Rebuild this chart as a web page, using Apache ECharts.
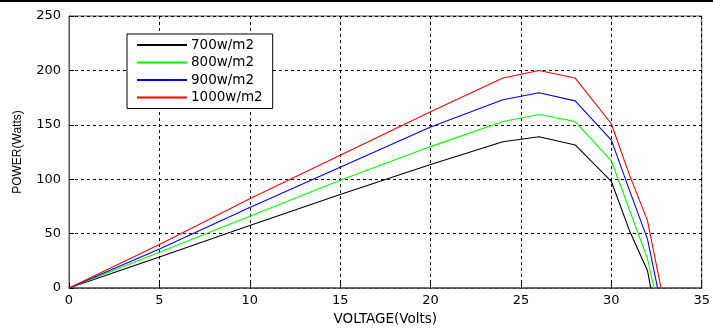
<!DOCTYPE html>
<html>
<head>
<meta charset="utf-8">
<script src="https://cdn.jsdelivr.net/npm/echarts@6/dist/echarts.min.js"></script>
<style>
html,body{margin:0;padding:0;background:#fff;}
#main{width:713px;height:331px;}
</style>
</head>
<body>
<div id="main"></div>
<script>
// Data (voltage in volts, power in watts)
const seriesNames = ['700w/m2', '800w/m2', '900w/m2', '1000w/m2'];
const seriesColors = ['#000000', '#00ff00', '#0000ff', '#ff0000'];
const v700  = [0, 5, 10, 15, 20, 24, 26, 28, 30, 31, 32, 32.18];
const p700  = [0, 28.5, 57.5, 86, 113.5, 134.5, 139, 131.5, 98, 53, 16, 0];
const v800  = [0, 5, 10, 15, 20, 24, 26, 28, 30, 31, 32, 32.36];
const p800  = [0, 33, 66, 99, 130, 153, 159.5, 153, 117, 72, 27, 0];
const v900  = [0, 5, 10, 15, 20, 24, 26, 28, 30, 31, 32, 32.56];
const p900  = [0, 36, 74, 111, 148, 173, 179.5, 172, 136, 90, 45, 0];
const v1000 = [0, 5, 10, 15, 20, 24, 26, 28, 30, 31, 32, 32.75];
const p1000 = [0, 40, 82, 122, 162, 193, 200, 193, 151, 104, 62, 0];
const xTicks = [0, 5, 10, 15, 20, 25, 30, 35];
const yTicks = [0, 50, 100, 150, 200, 250];
const xTitle = 'VOLTAGE(Volts)';
const yTitle = 'POWER(Watts)';

const volts = [v700, v800, v900, v1000];
const powers = [p700, p800, p900, p1000];

const chart = echarts.init(document.getElementById('main'), null, {renderer: 'canvas'});
const tickFont = {color: '#000', fontFamily: 'DejaVu Sans', fontSize: 13};
const gridLine = {show: true, lineStyle: {color: '#000', type: [3, 3], width: 1}};

const option = {
  backgroundColor: '#fff',
  animation: false,
  grid: {left: 69, right: 8, top: 16, bottom: 35, show: true, borderColor: '#555', borderWidth: 1},
  legend: {
    orient: 'vertical',
    left: 127, top: 34,
    data: seriesNames,
    itemWidth: 50, itemHeight: 14, itemGap: 3.5,
    padding: [4, 10, 4, 9],
    backgroundColor: '#fff',
    borderColor: '#000', borderWidth: 1,
    itemStyle: {opacity: 0},
    textStyle: {color: '#000', fontFamily: 'DejaVu Sans', fontSize: 13.5, padding: [0, 0, 0, -1]}
  },
  xAxis: {
    type: 'value', min: xTicks[0], max: xTicks[xTicks.length - 1], interval: 5,
    name: xTitle, nameLocation: 'middle', nameGap: 29,
    nameTextStyle: {color: '#000', fontFamily: 'DejaVu Sans', fontSize: 13.5, verticalAlign: 'middle'},
    axisLine: {show: true, onZero: false, lineStyle: {color: '#555', width: 1.5}},
    axisTick: {show: true, inside: true, length: 5, lineStyle: {color: '#000'}},
    axisLabel: Object.assign({margin: 6}, tickFont),
    splitLine: gridLine
  },
  yAxis: {
    type: 'value', min: yTicks[0], max: yTicks[yTicks.length - 1], interval: 50,
    name: yTitle, nameLocation: 'middle', nameGap: 51, nameRotate: 90,
    nameTextStyle: {color: '#000', fontFamily: 'Liberation Sans', fontSize: 12, verticalAlign: 'middle'},
    axisLine: {show: true, lineStyle: {color: '#555', width: 1}},
    axisTick: {show: true, inside: true, length: 5, lineStyle: {color: '#000'}},
    axisLabel: Object.assign({margin: 8}, tickFont),
    splitLine: gridLine
  },
  graphic: [
    {type: 'rect', shape: {x: 0, y: 0, width: 713, height: 2}, style: {fill: '#000'}, z: 100}
  ],
  series: seriesNames.map((n, i) => ({
    name: n,
    type: 'line',
    symbol: 'none',
    lineStyle: {color: seriesColors[i], width: 1.1},
    itemStyle: {color: seriesColors[i]},
    data: volts[i].map((v, k) => [v, powers[i][k]])
  }))
};
chart.setOption(option);
</script>
</body>
</html>
